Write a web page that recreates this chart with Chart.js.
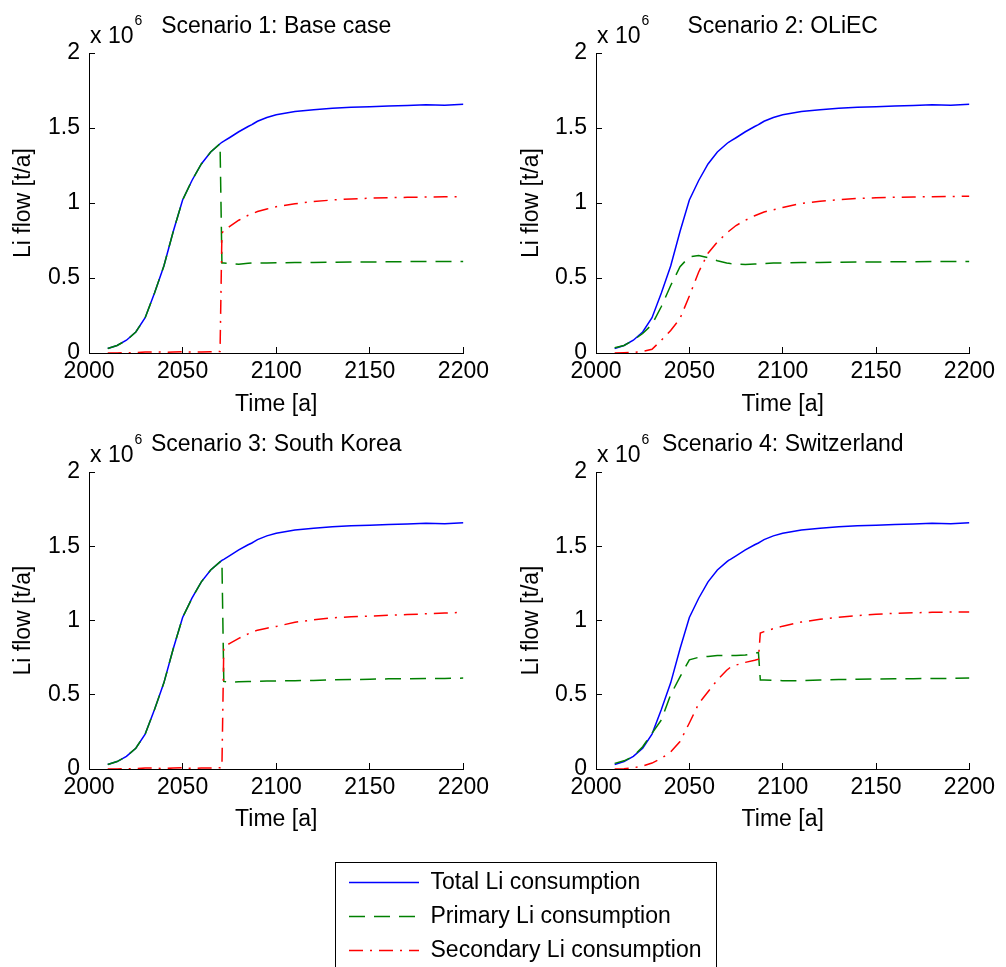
<!DOCTYPE html>
<html>
<head>
<meta charset="utf-8">
<script src="https://cdn.jsdelivr.net/npm/chart.js@4.4.1/dist/chart.umd.min.js"></script>
<style>
  html, body { margin: 0; padding: 0; background: #fff; overflow: hidden; }
  body { width: 1006px; height: 967px; position: relative; }
  canvas { position: absolute; display: block; }
  #legendBox { position: absolute; left: 335px; top: 862px; width: 380px; height: 250px; border: 1px solid #000; }
  #legendBox canvas { left: 0; top: -3px; }
</style>
</head>
<body>
<canvas id="c1" width="500" height="420" style="left:0;top:0"></canvas>
<canvas id="c2" width="506" height="420" style="left:500px;top:0"></canvas>
<canvas id="c3" width="500" height="415" style="left:0;top:420px"></canvas>
<canvas id="c4" width="506" height="415" style="left:500px;top:420px"></canvas>
<div id="legendBox"><canvas id="legend" width="380" height="248"></canvas></div>
<script>
// Li-Flüsse in 10^6 t/a
const years = [2010, 2015, 2020, 2025, 2030, 2035, 2040, 2045, 2050, 2055, 2060, 2065, 2070, 2071, 2072,
  2075, 2080, 2085, 2087, 2088, 2090, 2095, 2100, 2110, 2120, 2130, 2140, 2150, 2160, 2170, 2180, 2190, 2200];

const totalLi = [0.03, 0.05, 0.085, 0.14, 0.235, 0.40, 0.58, 0.81, 1.02, 1.15, 1.26, 1.34, 1.395, 1.405, 1.412,
  1.435, 1.475, 1.51, 1.522, 1.53, 1.545, 1.57, 1.588, 1.61, 1.622, 1.632, 1.638, 1.642, 1.646, 1.65, 1.655, 1.652, 1.658];

const primaryS1 = [0.03, 0.05, 0.085, 0.14, 0.235, 0.40, 0.58, 0.81, 1.02, 1.15, 1.26, 1.34, 1.395, 0.60, 0.60,
  0.598, 0.592, 0.598, 0.60, 0.60, 0.60, 0.60, 0.602, 0.603, 0.604, 0.605, 0.606, 0.607, 0.608, 0.609, 0.61, 0.61, 0.61];
const secondaryS1 = [0, 0, 0.002, 0.003, 0.006, 0.008, 0.005, 0.006, 0.008, 0.006, 0.007, 0.008, 0.01, 0.80, 0.815,
  0.842, 0.885, 0.918, 0.928, 0.933, 0.943, 0.96, 0.975, 0.995, 1.01, 1.02, 1.027, 1.032, 1.035, 1.038, 1.04, 1.041, 1.043];

const primaryS2 = [0.035, 0.05, 0.085, 0.13, 0.19, 0.31, 0.45, 0.575, 0.642, 0.65, 0.635, 0.615, 0.60, 0.598, 0.596,
  0.593, 0.59, 0.593, 0.594, 0.595, 0.597, 0.60, 0.60, 0.603, 0.604, 0.605, 0.606, 0.607, 0.608, 0.609, 0.61, 0.61, 0.61];
const secondaryS2 = [0, 0.002, 0.004, 0.01, 0.025, 0.085, 0.15, 0.23, 0.38, 0.54, 0.665, 0.74, 0.80, 0.81, 0.82,
  0.85, 0.885, 0.915, 0.925, 0.93, 0.94, 0.955, 0.97, 0.997, 1.012, 1.022, 1.03, 1.035, 1.038, 1.04, 1.042, 1.043, 1.045];

const primaryS3 = [0.03, 0.05, 0.085, 0.14, 0.235, 0.40, 0.58, 0.81, 1.02, 1.15, 1.26, 1.34, 1.395, 1.405, 0.59,
  0.585, 0.587, 0.59, 0.59, 0.59, 0.59, 0.592, 0.593, 0.595, 0.596, 0.60, 0.602, 0.605, 0.607, 0.608, 0.61, 0.61, 0.612];
const secondaryS3 = [0, 0, 0.002, 0.002, 0.006, 0.006, 0.003, 0.006, 0.008, 0.004, 0.006, 0.007, 0.008, 0.01, 0.82,
  0.845, 0.88, 0.91, 0.92, 0.925, 0.935, 0.948, 0.96, 0.988, 1.005, 1.018, 1.025, 1.03, 1.035, 1.04, 1.045, 1.05, 1.055];

const primaryS4 = [0.038, 0.055, 0.085, 0.15, 0.24, 0.33, 0.50, 0.62, 0.735, 0.752, 0.758, 0.765, 0.765, 0.765, 0.765,
  0.765, 0.768, 0.778, 0.785, 0.60, 0.60, 0.598, 0.595, 0.595, 0.60, 0.602, 0.604, 0.606, 0.607, 0.608, 0.61, 0.61, 0.612];
const secondaryS4 = [0, 0.002, 0.008, 0.02, 0.04, 0.072, 0.115, 0.185, 0.31, 0.44, 0.52, 0.60, 0.665, 0.675, 0.685,
  0.70, 0.718, 0.733, 0.74, 0.915, 0.925, 0.945, 0.962, 0.99, 1.008, 1.022, 1.033, 1.042, 1.048, 1.052, 1.055, 1.057, 1.058];

const xTicks = [2000, 2050, 2100, 2150, 2200];
const yTicks = [0, 0.5, 1, 1.5, 2];
const scenarioTitles = ['Scenario 1: Base case', 'Scenario 2: OLiEC', 'Scenario 3: South Korea', 'Scenario 4: Switzerland'];
const seriesLabels = ['Total Li consumption', 'Primary Li consumption', 'Secondary Li consumption'];

const FONT = '"Liberation Sans", Arial, sans-serif';
const FS = 23;
const colors = ['#0000ff', '#008000', '#ff0000'];
const dashes = [[], [16, 9], [14, 7, 2, 7]];

Chart.defaults.font.family = FONT;
Chart.defaults.color = '#000';

const toXY = vals => years.map((x, i) => ({ x: x, y: vals[i] }));

// "x 10^6" über der y-Achse
const multiplierPlugin = {
  id: 'multiplier',
  afterDraw(chart) {
    const { ctx, chartArea } = chart;
    ctx.save();
    ctx.fillStyle = '#000';
    ctx.textBaseline = 'alphabetic';
    ctx.font = FS + 'px ' + FONT;
    ctx.fillText('x 10', chartArea.left + 1, chartArea.top - 10);
    const w = ctx.measureText('x 10').width;
    ctx.font = '14px ' + FONT;
    ctx.fillText('6', chartArea.left + 2 + w, chartArea.top - 28);
    ctx.restore();
  }
};

function makePanel(id, title, series, g) {
  const datasets = series.map((vals, k) => ({
    label: seriesLabels[k],
    data: toXY(vals),
    borderColor: colors[k],
    borderWidth: 1.5,
    borderDash: dashes[k],
    pointRadius: 0,
    tension: 0,
    order: 3 - k
  }));
  return new Chart(document.getElementById(id), {
    type: 'line',
    data: { datasets: datasets },
    plugins: [multiplierPlugin],
    options: {
      responsive: false,
      animation: false,
      layout: { padding: { left: 0, right: g.right, top: 0, bottom: 0 } },
      plugins: {
        legend: { display: false },
        tooltip: { enabled: false },
        title: {
          display: true,
          text: title,
          fullSize: false,
          color: '#000',
          font: { size: FS, weight: 'normal', lineHeight: 1.2 },
          padding: g.titlePad
        }
      },
      scales: {
        x: {
          type: 'linear',
          min: 2000,
          max: 2200,
          afterBuildTicks: s => { s.ticks = xTicks.map(v => ({ value: v })); },
          afterFit: s => { s.height = g.h - g.bottom; },
          ticks: { callback: v => String(v), font: { size: FS }, color: '#000', padding: 11, maxRotation: 0 },
          grid: { drawOnChartArea: false, drawTicks: true, tickLength: -6, color: '#000' },
          border: { color: '#000', width: 1 },
          title: { display: true, text: 'Time [a]', font: { size: FS, lineHeight: 1.2 }, color: '#000', padding: { top: 0, bottom: 1.4 } }
        },
        y: {
          type: 'linear',
          min: 0,
          max: 2,
          afterBuildTicks: s => { s.ticks = yTicks.map(v => ({ value: v })); },
          afterFit: s => { s.width = g.left; },
          ticks: { callback: v => String(v), font: { size: FS }, color: '#000', padding: 15 },
          grid: { drawOnChartArea: false, drawTicks: true, tickLength: -6, color: '#000' },
          border: { color: '#000', width: 1 },
          title: { display: true, text: 'Li flow [t/a]', font: { size: FS, lineHeight: 1.2 }, color: '#000', padding: { top: g.yTitlePad, bottom: 0 } }
        }
      }
    }
  });
}

makePanel('c1', scenarioTitles[0], [totalLi, primaryS1, secondaryS1],
  { left: 89, right: 31, h: 420, bottom: 353, titlePad: { top: 13, bottom: 12.4 }, yTitlePad: 9.5 });
makePanel('c2', scenarioTitles[1], [totalLi, primaryS2, secondaryS2],
  { left: 96, right: 26, h: 420, bottom: 353, titlePad: { top: 13, bottom: 12.4 }, yTitlePad: 18 });
makePanel('c3', scenarioTitles[2], [totalLi, primaryS3, secondaryS3],
  { left: 89, right: 31, h: 415, bottom: 349, titlePad: { top: 11, bottom: 13.4 }, yTitlePad: 9.5 });
makePanel('c4', scenarioTitles[3], [totalLi, primaryS4, secondaryS4],
  { left: 96, right: 26, h: 415, bottom: 349, titlePad: { top: 11, bottom: 13.4 }, yTitlePad: 18 });

// gemeinsame Legende unten
new Chart(document.getElementById('legend'), {
  type: 'line',
  data: {
    datasets: seriesLabels.map((lab, k) => ({
      label: lab,
      data: [],
      borderColor: colors[k],
      backgroundColor: colors[k],
      borderWidth: 1.5,
      borderDash: dashes[k]
    }))
  },
  options: {
    responsive: false,
    animation: false,
    layout: { padding: { left: 2, right: 0, top: 0, bottom: 0 } },
    scales: { x: { display: false }, y: { display: false } },
    plugins: {
      tooltip: { enabled: false },
      legend: {
        position: 'top',
        align: 'start',
        labels: {
          usePointStyle: true,
          pointStyle: 'line',
          pointStyleWidth: 70,
          color: '#000',
          font: { size: FS },
          padding: 11,
          generateLabels: chart => {
            const items = Chart.defaults.plugins.legend.labels.generateLabels(chart);
            items.forEach((it, i) => {
              it.lineDash = dashes[i];
              it.strokeStyle = colors[i];
              it.lineWidth = 1.5;
            });
            return items;
          }
        }
      }
    }
  }
});
</script>
</body>
</html>
